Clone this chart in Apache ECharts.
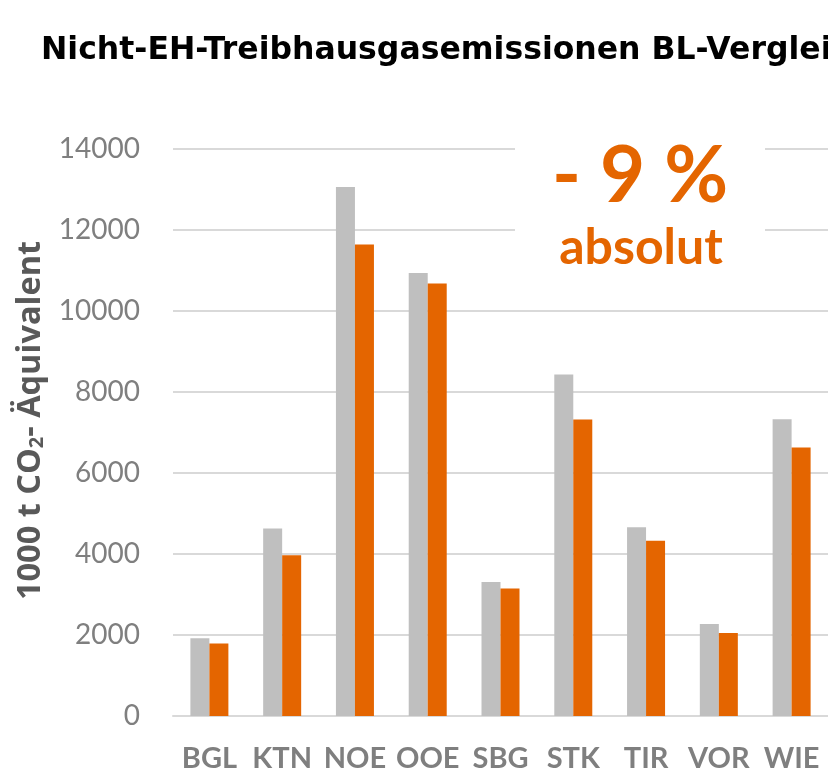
<!DOCTYPE html>
<html>
<head>
<meta charset="utf-8">
<script src="https://cdn.jsdelivr.net/npm/echarts@6/dist/echarts.min.js"></script>
<style>
html,body{margin:0;padding:0;background:#fff;}
#chart{width:828px;height:774px;}
</style>
</head>
<body>
<div id="chart"></div>
<script>
// Data
var categories = ['BGL', 'KTN', 'NOE', 'OOE', 'SBG', 'STK', 'TIR', 'VOR', 'WIE'];
var seriesNames = ['Vergleichsjahr', 'Aktuelles Jahr'];
var valuesGray = [1920, 4630, 13060, 10940, 3310, 8430, 4660, 2270, 7330];
var valuesOrange = [1790, 3970, 11640, 10680, 3150, 7320, 4330, 2050, 6630];
var yTicks = [0, 2000, 4000, 6000, 8000, 10000, 12000, 14000];
var titleText = 'Nicht-EH-Treibhausgasemissionen BL-Verglei';
var annotationMain = '- 9 %';
var annotationSub = 'absolut';

var GRAY = '#bfbfbf';
var ORANGE = '#e46500';
var FONT = 'Lato, "Open Sans", sans-serif';
var FONT_WIDE = '"Open Sans", "Noto Sans", sans-serif';
var FONT_TITLE = '"DejaVu Sans", "Open Sans", sans-serif';

var chart = echarts.init(document.getElementById('chart'), null, {renderer: 'canvas'});
chart.setOption({
  backgroundColor: '#ffffff',
  animation: false,
  title: {
    text: titleText,
    left: 36,
    top: 30,
    textStyle: {fontFamily: FONT_TITLE, fontWeight: 'bold', fontSize: 31.5, color: '#000000'}
  },
  grid: {left: 173, top: 149, bottom: 58, width: 659, containLabel: false},
  xAxis: {
    type: 'category',
    data: categories,
    axisLine: {show: true, lineStyle: {color: '#d9d9d9', width: 2}},
    axisTick: {show: false},
    axisLabel: {margin: 28, fontFamily: FONT, fontWeight: 'bold', fontSize: 29, color: '#7f7f7f', interval: 0}
  },
  yAxis: {
    type: 'value',
    min: yTicks[0],
    max: yTicks[yTicks.length - 1],
    interval: yTicks[1] - yTicks[0],
    name: '{a|1000 t CO}{s|2}{a|- Äquivalent}',
    nameLocation: 'middle',
    nameRotate: 90,
    nameGap: 126,
    nameTextStyle: {
      padding: [0, 0, 0, 24],
      rich: {
        a: {fontFamily: FONT_WIDE, fontWeight: 'bold', fontSize: 32.5, color: '#595959'},
        s: {fontFamily: FONT_WIDE, fontWeight: 'bold', fontSize: 20, color: '#595959', verticalAlign: 'bottom', padding: [11, 0, 0, 0]}
      }
    },
    axisLine: {show: false},
    axisTick: {show: false},
    axisLabel: {
      margin: 33, fontFamily: FONT, fontSize: 28, color: '#7f7f7f',
      formatter: function (v) { return String(v); }
    },
    splitLine: {lineStyle: {color: '#d9d9d9', width: 2}}
  },
  series: [
    {name: seriesNames[0], type: 'bar', data: valuesGray, barWidth: 19, barGap: '0%',
     itemStyle: {color: GRAY}},
    {name: seriesNames[1], type: 'bar', data: valuesOrange, barWidth: 19, barGap: '0%',
     itemStyle: {color: ORANGE}}
  ],
  graphic: [
    {type: 'rect', z: 100, shape: {x: 515, y: 139, width: 250, height: 140}, style: {fill: '#ffffff'}},
    {type: 'text', z: 101, x: 640, y: 138,
     style: {text: annotationMain, textAlign: 'center', textVerticalAlign: 'top', fill: ORANGE, fontFamily: FONT, fontWeight: 'bold', fontSize: 78}},
    {type: 'text', z: 101, x: 641, y: 223,
     style: {text: annotationSub, textAlign: 'center', textVerticalAlign: 'top', fill: ORANGE, fontFamily: FONT, fontWeight: 'bold', fontSize: 50}}
  ]
});
</script>
</body>
</html>
